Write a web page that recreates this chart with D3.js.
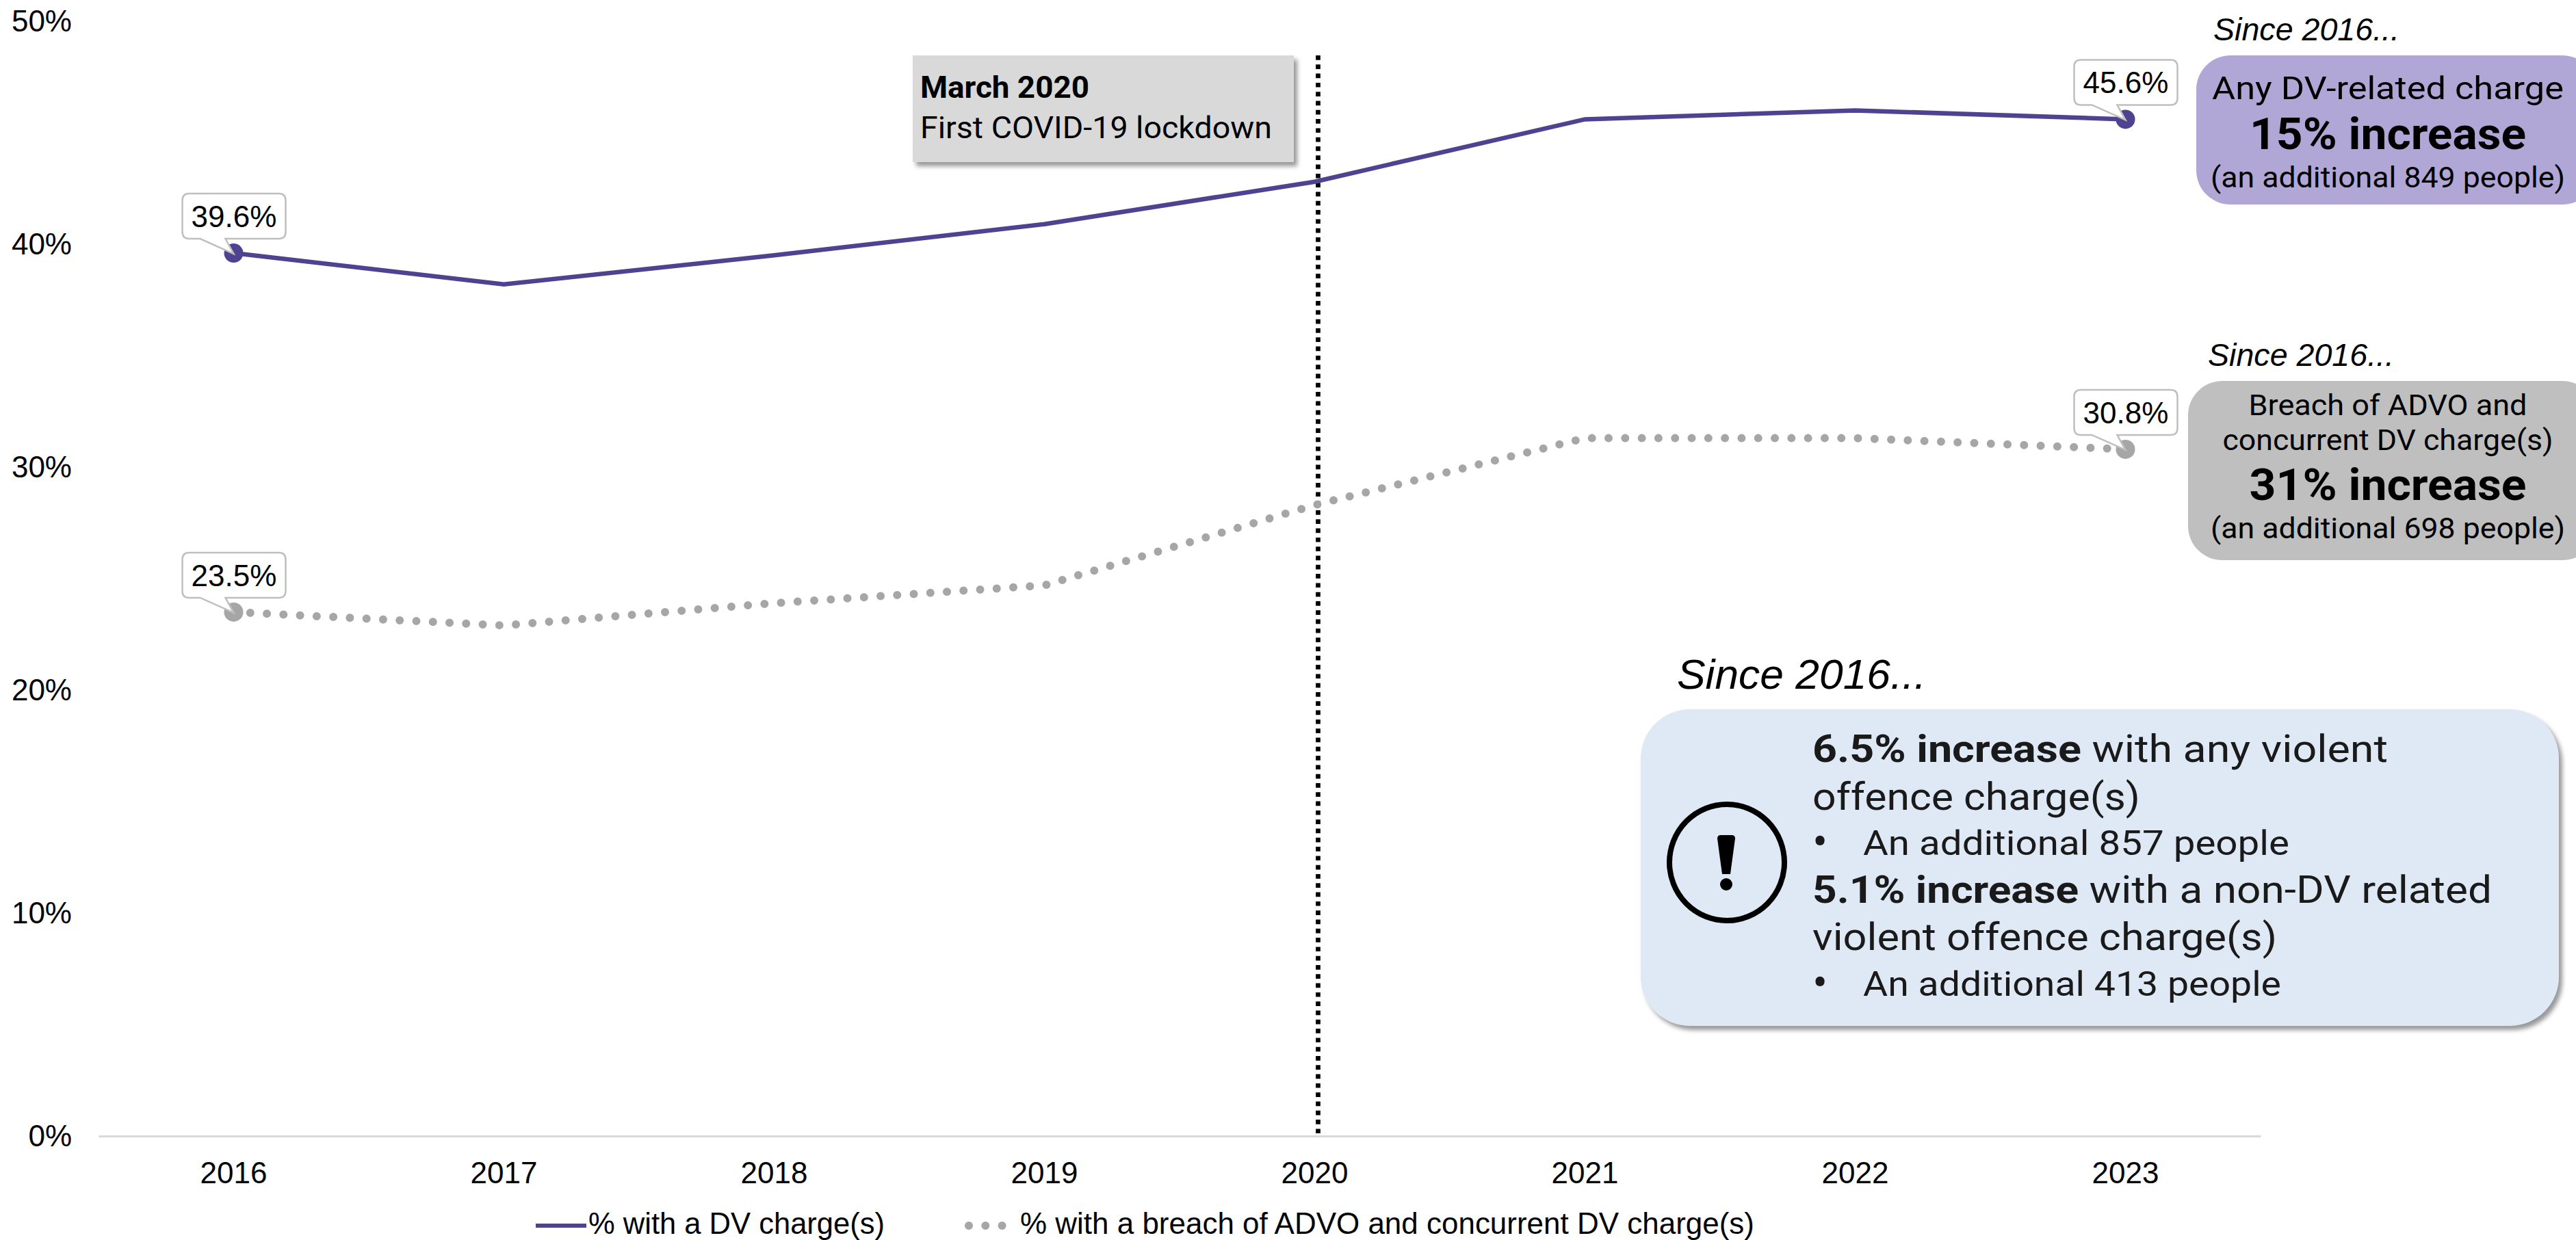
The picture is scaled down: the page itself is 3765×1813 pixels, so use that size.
<!DOCTYPE html>
<html><head><meta charset="utf-8">
<script src="https://cdn.jsdelivr.net/npm/d3@7"></script>
<style>
html,body{margin:0;padding:0;background:#fff;overflow:hidden}
svg{display:block}
.ar{font-family:"Liberation Sans",Arial,sans-serif;fill:#000}
.ap{font-family:Roboto,sans-serif;fill:#000}
</style></head><body>
<script>
const categories = ["2016","2017","2018","2019","2020","2021","2022","2023"];
const dvCharge = [39.6,38.2,39.5,40.9,42.8,45.6,46.0,45.6];
const breachCharge = [23.5,22.9,23.9,24.7,28.3,31.3,31.3,30.8];
const yTicks = [0,10,20,30,40,50];
const seriesNames = ["% with a DV charge(s)","% with a breach of ADVO and concurrent DV charge(s)"];

const W=3765,H=1813;
const svg=d3.select("body").append("svg").attr("width",W).attr("height",H);
const defs=svg.append("defs");
const f1=defs.append("filter").attr("id","sh").attr("x","-5%").attr("y","-5%").attr("width","115%").attr("height","120%");
f1.append("feDropShadow").attr("dx",5).attr("dy",6).attr("stdDeviation",3).attr("flood-color","#7f7f7f").attr("flood-opacity",0.8);

const x=d3.scaleBand().domain(categories).range([144,3304]);
const cx=c=>x(c)+x.bandwidth()/2;
const y=d3.scaleLinear().domain([0,50]).range([1661,31]);

// axes
const gx=svg.append("g").attr("transform",`translate(0,${y(0)})`)
  .call(d3.axisBottom(x).tickSize(0).tickPadding(38));
gx.select(".domain").attr("stroke","#D9D9D9").attr("stroke-width",3);
gx.selectAll("text").attr("class","ar").style("font-size","44px");
const gy=svg.append("g").attr("transform","translate(105,0)")
  .call(d3.axisLeft(y).tickValues(yTicks).tickSize(0).tickPadding(0).tickFormat(d=>d+"%"));
gy.select(".domain").remove();
gy.selectAll("text").attr("class","ar").style("font-size","44px");

// lockdown line
svg.append("line").attr("x1",cx("2020")+5).attr("x2",cx("2020")+5).attr("y1",81).attr("y2",y(0))
  .attr("stroke","#000").attr("stroke-width",6.7).attr("stroke-dasharray","6.7 6.6");

// lines
const line=d3.line().x((d,i)=>cx(categories[i])).y(d=>y(d));
svg.append("path").datum(dvCharge).attr("d",line).attr("fill","none").attr("stroke","#4E4291").attr("stroke-width",6.5);
svg.append("path").datum(breachCharge).attr("d",line).attr("fill","none").attr("stroke","#A6A6A6")
  .attr("stroke-width",12).attr("stroke-linecap","round").attr("stroke-dasharray","0 24.3");

// markers and callouts
function callout(i,vals,col){
  const px=cx(categories[i]),py=y(vals[i]);
  svg.append("circle").attr("cx",px).attr("cy",py).attr("r",14).attr("fill",col);
  const l=px-75,r=px+76,t=py-87,b=py-21,k=10;
  const p=`M${l+k},${t}H${r-k}Q${r},${t} ${r},${t+k}V${b-k}Q${r},${b} ${r-k},${b}H${px-12}L${px},${py+1}L${px-49},${b}H${l+k}Q${l},${b} ${l},${b-k}V${t+k}Q${l},${t} ${l+k},${t}Z`;
  svg.append("path").attr("d",p).attr("fill","#fff").attr("stroke","#BFBFBF").attr("stroke-width",2.5);
  svg.append("text").attr("class","ar").attr("x",px+0.5).attr("y",py-38).attr("text-anchor","middle")
    .style("font-size","44px").text(vals[i].toFixed(1)+"%");
}
callout(0,dvCharge,"#4E4291");callout(7,dvCharge,"#4E4291");
callout(0,breachCharge,"#A6A6A6");callout(7,breachCharge,"#A6A6A6");

function txt(t,xp,yp,size,opt={}){
  const e=svg.append("text").attr("class",opt.cls||"ap").attr("x",xp).attr("y",yp)
    .attr("text-anchor",opt.anchor||"start").style("font-size",size+"px")
    .style("font-weight",opt.bold?700:400).style("font-style",opt.italic?"italic":"normal");
  if(opt.fill)e.style("fill",opt.fill);
  if(opt.len)e.attr("textLength",opt.len).attr("lengthAdjust","spacingAndGlyphs");
  e.text(t);return e;
}

// covid box
svg.append("rect").attr("x",1334).attr("y",81).attr("width",557).attr("height",156).attr("fill","#D9D9D9").attr("filter","url(#sh)");
txt("March 2020",1345,143,44,{bold:true,len:247});
txt("First COVID-19 lockdown",1345,202,44,{len:514});

// purple box
txt("Since 2016...",3235,59,47,{cls:"ar",italic:true,len:272});
svg.append("rect").attr("x",3210).attr("y",81).attr("width",585).attr("height",218).attr("rx",50).attr("fill","#B1A7D6");
txt("Any DV-related charge",3490,145,46,{anchor:"middle",len:514});
txt("15% increase",3490,218,64,{anchor:"middle",bold:true,len:404});
txt("(an additional 849 people)",3490,274,42,{anchor:"middle",len:518});

// grey box
txt("Since 2016...",3227,535,47,{cls:"ar",italic:true,len:272});
svg.append("rect").attr("x",3198).attr("y",557).attr("width",597).attr("height",262).attr("rx",50).attr("fill","#BFBFBF");
txt("Breach of ADVO and",3490,607,42,{anchor:"middle",len:407});
txt("concurrent DV charge(s)",3490,658,42,{anchor:"middle",len:483});
txt("31% increase",3490,731,64,{anchor:"middle",bold:true,len:405});
txt("(an additional 698 people)",3490,787,42,{anchor:"middle",len:518});

// blue box
txt("Since 2016...",2451,1007,62,{cls:"ar",italic:true,len:364});
svg.append("rect").attr("x",2398).attr("y",1037).attr("width",1342).attr("height",463).attr("rx",72).attr("fill","#DEE9F5").attr("filter","url(#sh)");
const dark="#1a1a1a";
function mixed(parts,yp,len){
  const e=svg.append("text").attr("class","ap").attr("x",2649).attr("y",yp).style("font-size","56px").style("fill",dark)
    .attr("textLength",len).attr("lengthAdjust","spacingAndGlyphs");
  parts.forEach(p=>e.append("tspan").style("font-weight",p[1]?700:400).text(p[0]));
}
mixed([["6.5% increase",1],[" with any violent",0]],1114,841);
txt("offence charge(s)",2649,1184,56,{fill:dark,len:479});
txt("•",2649,1254,66,{fill:dark});
txt("An additional 857 people",2723,1250,50,{fill:dark,len:623});
mixed([["5.1% increase",1],[" with a non-DV related",0]],1320,993);
txt("violent offence charge(s)",2649,1389,56,{fill:dark,len:679});
txt("•",2649,1460,66,{fill:dark});
txt("An additional 413 people",2723,1456,50,{fill:dark,len:611});
// warning icon
svg.append("ellipse").attr("cx",2524).attr("cy",1261).attr("rx",84).attr("ry",85).attr("fill","none").attr("stroke","#000").attr("stroke-width",8);
svg.append("path").attr("d","M2510,1226Q2510,1221 2515,1221H2531Q2536,1221 2536,1226L2529,1278H2517Z").attr("fill","#000");
svg.append("circle").attr("cx",2523).attr("cy",1293).attr("r",9).attr("fill","#000");

// legend
svg.append("line").attr("x1",783).attr("x2",857).attr("y1",1792).attr("y2",1792).attr("stroke","#4E4291").attr("stroke-width",6);
txt(seriesNames[0],860,1803.5,44,{cls:"ar",len:433});
svg.append("line").attr("x1",1416).attr("x2",1470).attr("y1",1792).attr("y2",1792).attr("stroke","#A6A6A6")
  .attr("stroke-width",12).attr("stroke-linecap","round").attr("stroke-dasharray","0 24.3");
txt(seriesNames[1],1491,1803.5,44,{cls:"ar",len:1073});
</script>
</body></html>
